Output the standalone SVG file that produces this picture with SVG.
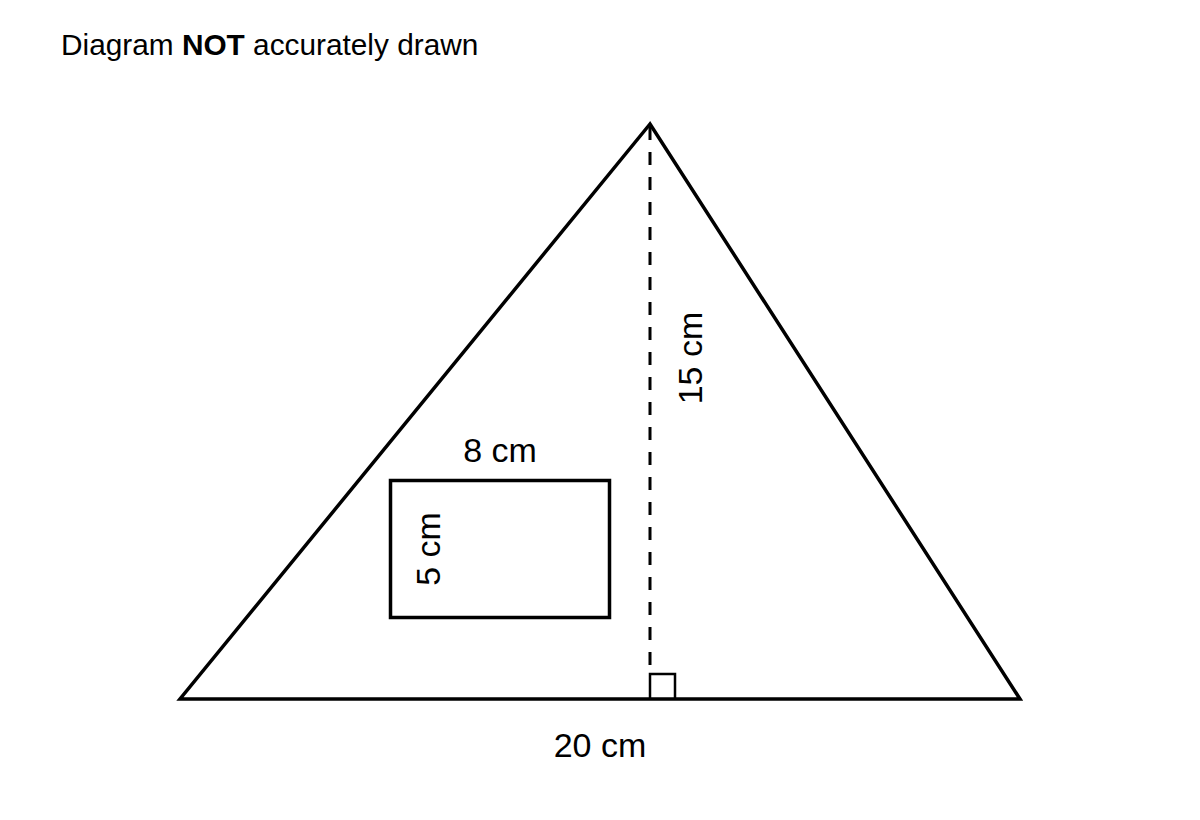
<svg xmlns="http://www.w3.org/2000/svg" width="1200" height="820" viewBox="0 0 1200 820">
<style>
.lbl{font-family:"Liberation Sans",Arial,sans-serif;font-size:34px;fill:#000;text-anchor:middle}
.shape{fill:none;stroke:#000;stroke-width:3.5}
</style>
<rect width="1200" height="820" fill="#fff"/>
<text x="61" y="55" font-family="Liberation Sans, Arial, sans-serif" font-size="29.8" fill="#000">Diagram <tspan font-weight="bold">NOT</tspan> accurately drawn</text>
<g id="triangle">
<polygon class="shape" points="650,124 180,699 1020,699" stroke-linejoin="miter"/>
</g>
<g id="connectors">
<line x1="650" y1="127" x2="650" y2="673" stroke="#000" stroke-width="3" stroke-dasharray="13 12"/>
</g>
<g id="right-angle">
<polyline points="650,699 650,674 675,674 675,699" fill="none" stroke="#000" stroke-width="2.5"/>
</g>
<g id="rectangle">
<rect class="shape" x="390.5" y="480.5" width="219" height="137"/>
</g>
<g id="labels">
<text class="lbl" x="600" y="757">20 cm</text>
<text class="lbl" x="500" y="462">8 cm</text>
<text class="lbl" transform="translate(702,358) rotate(-90)">15 cm</text>
<text class="lbl" transform="translate(440,549) rotate(-90)">5 cm</text>
</g>
</svg>
